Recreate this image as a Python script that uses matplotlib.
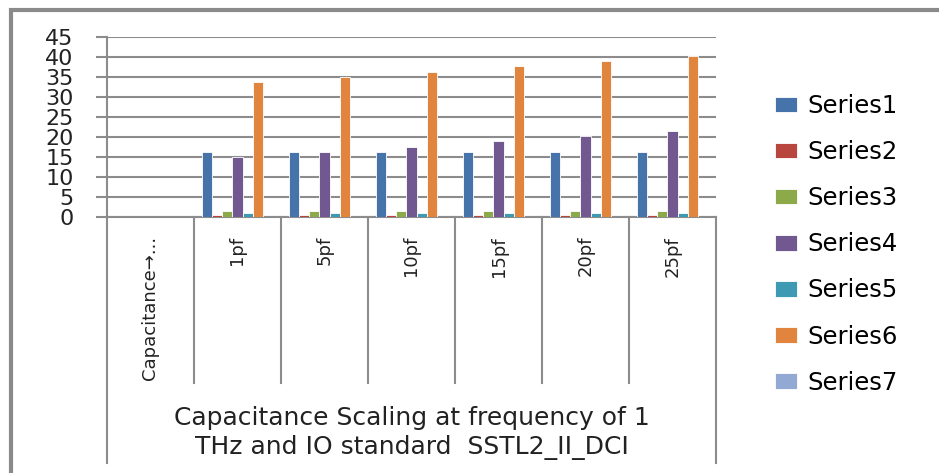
import numpy as np
import matplotlib
matplotlib.use('Agg')
from matplotlib import pyplot as plt
from matplotlib.lines import Line2D
from matplotlib.patches import Rectangle

# data
categories = ['Capacitance\u2192...', '1pf', '5pf', '10pf', '15pf', '20pf', '25pf']
series_names = ['Series1', 'Series2', 'Series3', 'Series4', 'Series5', 'Series6', 'Series7']
series1 = [np.nan, 16.3, 16.3, 16.3, 16.3, 16.3, 16.3]
series2 = [np.nan, 0.4, 0.4, 0.4, 0.4, 0.4, 0.4]
series3 = [np.nan, 1.4, 1.4, 1.4, 1.4, 1.4, 1.4]
series4 = [np.nan, 15.1, 16.3, 17.6, 19.1, 20.3, 21.6]
series5 = [np.nan, 1.0, 1.0, 1.0, 1.0, 1.0, 1.0]
series6 = [np.nan, 33.8, 35.1, 36.3, 37.7, 38.9, 40.2]
series7 = [np.nan, 0.0, 0.0, 0.0, 0.0, 0.0, 0.0]
yticks = [0, 5, 10, 15, 20, 25, 30, 35, 40, 45]
axis_title = 'Capacitance Scaling at frequency of 1\nTHz and IO standard  SSTL2_II_DCI'

colors = ['#4673AA', '#B8463F', '#8DAA4B', '#715890', '#3E9AB3', '#E0843E', '#92A9D4']
all_series = [series1, series2, series3, series4, series5, series6, series7]

W, H = 939, 473
fig = plt.figure(figsize=(W / 100, H / 100), dpi=100)

# plot area in pixels: left 107, right 716, top 37, bottom 217
ax = fig.add_axes([107 / W, 1 - 217 / H, 609 / W, 180 / H])

x = np.arange(len(categories))
n = len(all_series)
w = 1 / (n + 1.5)  # gap width 150%
for i, vals in enumerate(all_series):
    ax.bar(x + (i - (n - 1) / 2) * w, vals, width=w, color=colors[i],
           edgecolor='white', linewidth=0.6, label=series_names[i], zorder=3)

ax.set_xlim(-0.5, len(categories) - 0.5)
ax.set_ylim(0, 45)
ax.set_yticks(yticks)
ax.set_yticklabels([str(t) for t in yticks], fontsize=16, color='#222222')
ax.tick_params(axis='y', length=8, width=1.5, color='#8c8c8c', pad=16)
ax.set_xticks([])
ax.grid(axis='y', color='#8c8c8c', linewidth=1.5, zorder=0)
for s in ['top', 'right']:
    ax.spines[s].set_visible(False)
ax.spines['left'].set_color('#8c8c8c')
ax.spines['left'].set_linewidth(1.5)
ax.spines['bottom'].set_color('#8c8c8c')
ax.spines['bottom'].set_linewidth(1.5)

# category axis: separators and outer lines
trans = ax.get_xaxis_transform()
sep_bottom = -(383 - 217) / 180
outer_bottom = -(463 - 217) / 180
for b in np.arange(0.5, len(categories) - 1, 1.0):
    ax.add_line(Line2D([b, b], [0, sep_bottom], transform=trans, color='#8c8c8c',
                       linewidth=1.5, clip_on=False))
for b in [-0.5, len(categories) - 0.5]:
    ax.add_line(Line2D([b, b], [0, outer_bottom], transform=trans, color='#8c8c8c',
                       linewidth=1.5, clip_on=False))

lab_top = -(236 - 217) / 180
for xi, c in zip(x, categories):
    ax.text(xi, lab_top, c, transform=trans, rotation=90, ha='center', va='top',
            fontsize=13, color='#222222')

ax.text(3.0, -(433 - 217) / 180, axis_title, transform=trans, ha='center', va='center',
        fontsize=18, color='#222222', linespacing=1.3)

# legend
fig.legend(loc='upper left', bbox_to_anchor=(775 / W, 1 - 94 / H), frameon=False,
           fontsize=17.5, handlelength=0.9, handleheight=0.6, handletextpad=0.45,
           labelspacing=0.91, borderpad=0, borderaxespad=0)

# outer chart border (cut off on right and bottom)
fig.add_artist(Rectangle((11 / W, -0.1), 1.2, 1.1 - 10 / H, transform=fig.transFigure,
                         fill=False, edgecolor='#8a8a8a', linewidth=3))

fig.savefig('out.png', dpi=100)
